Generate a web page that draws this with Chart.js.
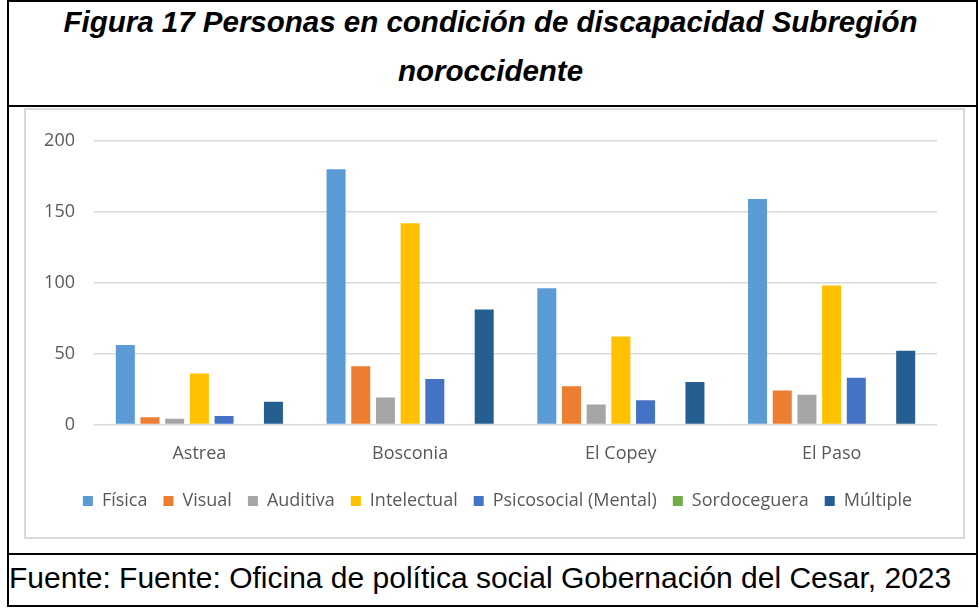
<!DOCTYPE html>
<html>
<head>
<meta charset="utf-8">
<script src="https://cdn.jsdelivr.net/npm/chart.js@4.4.1/dist/chart.umd.min.js"></script>
<style>
    body { margin: 0; background: #fff; }
    #frame {
        position: absolute; left: 7px; top: 0; width: 967px; height: 603px;
        border: 2px solid #000;
    }
    #title {
        position: absolute; left: 0; top: 0; width: 967px; height: 103px;
        border-bottom: 2px solid #000;
        font-family: "Liberation Sans", Arial, sans-serif;
        font-weight: bold; font-style: italic; font-size: 29.5px;
        text-align: center; line-height: 49px; color: #000;
    }
    #title div { position: relative; top: -5px; left: -2px; }
    #box {
        position: absolute; left: 15px; top: 106px; width: 937px; height: 427px;
        border: 2px solid #d9d9d9;
    }
    #footer {
        position: absolute; left: 0; top: 551px; width: 967px; height: 52px;
        border-top: 2px solid #000;
        font-family: "Liberation Sans", Arial, sans-serif;
        font-size: 30px; line-height: 46px; color: #000;
    }
</style>
</head>
<body>
<div id="frame">
    <div id="title"><div>Figura 17 Personas en condición de discapacidad Subregión<br>noroccidente</div></div>
    <div id="box"><canvas id="chart" width="937" height="427"></canvas></div>
    <div id="footer">Fuente: Fuente: Oficina de política social Gobernación del Cesar, 2023</div>
</div>
<script>
// Datos
const municipios = ['Astrea', 'Bosconia', 'El Copey', 'El Paso'];
const fisica       = [56, 180, 96, 159];
const visual       = [5, 41, 27, 24];
const auditiva     = [4, 19, 14, 21];
const intelectual  = [36, 142, 62, 98];
const psicosocial  = [6, 32, 17, 33];
const sordoceguera = [0, 0, 0, 0];
const multiple     = [16, 81, 30, 52];
const yTicks = [0, 50, 100, 150, 200];

const series = [
    { label: 'Física', data: fisica, color: '#5B9BD5' },
    { label: 'Visual', data: visual, color: '#ED7D31' },
    { label: 'Auditiva', data: auditiva, color: '#A5A5A5' },
    { label: 'Intelectual', data: intelectual, color: '#FFC000' },
    { label: 'Psicosocial (Mental)', data: psicosocial, color: '#4472C4' },
    { label: 'Sordoceguera', data: sordoceguera, color: '#70AD47' },
    { label: 'Múltiple', data: multiple, color: '#255E91' }
];

// mover la leyenda un poco a la derecha (centrada como en Excel)
const legendShift = {
    id: 'legendShift',
    afterLayout(chart) {
        chart.legend.left += 16;
        chart.legend.right += 16;
    }
};

const ctx = document.getElementById('chart').getContext('2d');
new Chart(ctx, {
    type: 'bar',
    data: {
        labels: municipios,
        datasets: series.map(s => ({
            label: s.label,
            data: s.data,
            backgroundColor: s.color,
            borderWidth: 0,
            categoryPercentage: 0.82,
            barPercentage: 0.77
        }))
    },
    plugins: [legendShift],
    options: {
        responsive: false,
        animation: false,
        layout: { padding: { top: 31, right: 26, bottom: 17, left: 0 } },
        plugins: {
            tooltip: { enabled: false },
            legend: {
                position: 'bottom',
                labels: {
                    boxWidth: 10, boxHeight: 10, padding: 16,
                    color: '#595959',
                    font: { family: '"Open Sans"', size: 18 }
                }
            }
        },
        scales: {
            x: {
                grid: { display: false },
                border: { display: false },
                ticks: { color: '#595959', padding: 11, font: { family: '"Open Sans"', size: 18 } }
            },
            y: {
                min: 0, max: 200,
                afterBuildTicks: axis => { axis.ticks = yTicks.map(v => ({ value: v })); },
                afterFit: axis => { axis.width = 68; },
                grid: { color: '#d9d9d9', lineWidth: 1.5, drawTicks: false },
                border: { display: false },
                ticks: { color: '#595959', padding: 19, font: { family: '"Open Sans"', size: 18 } }
            }
        }
    }
});
</script>
</body>
</html>
